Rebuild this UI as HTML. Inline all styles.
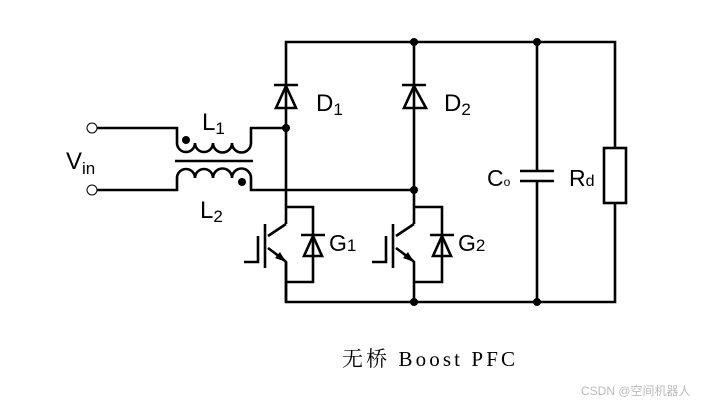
<!DOCTYPE html>
<html><head><meta charset="utf-8"><style>
body{margin:0;background:#fff;width:705px;height:403px;overflow:hidden}
svg{display:block}
.l{font-family:"Liberation Sans","DejaVu Sans",sans-serif;fill:#000}
</style></head><body>
<svg width="705" height="403" viewBox="0 0 705 403" xmlns="http://www.w3.org/2000/svg">
<g fill="none" stroke="#000" stroke-width="2.6" stroke-linejoin="miter">
<polyline points="286,128 286,42 615,42 615,148"/>
<polyline points="615,203 615,302 286,302 286,262"/>
<line x1="414" y1="42" x2="414" y2="224"/>
<line x1="537" y1="42" x2="537" y2="171"/>
<line x1="537" y1="181" x2="537" y2="302"/>
<rect x="604" y="148" width="22" height="55"/>
<line x1="520" y1="171" x2="554" y2="171"/>
<line x1="520" y1="181" x2="554" y2="181"/>
<line x1="286" y1="128" x2="286" y2="224"/>
<line x1="274" y1="85" x2="298" y2="85"/>
<polygon points="286,86 276,108 296,108"/>
<line x1="402" y1="85" x2="426" y2="85"/>
<polygon points="414,86 404,108 426,108"/>
<polyline points="97,128 177,128 177,143"/>
<polyline points="251,143 251,128 286,128"/>
<path d="M177,143 a9,9 0 0 0 18,0 a9,9 0 0 0 18,0 a9,9 0 0 0 19,0 a9.5,9.5 0 0 0 19,0"/>
<line x1="175" y1="161" x2="253" y2="161"/>
<polyline points="97,190 177,190 177,178"/>
<polyline points="251,178 251,190 414,190"/>
<path d="M177,178 a9,9 0 0 1 18,0 a9,9 0 0 1 18,0 a9,9 0 0 1 19,0 a9.5,9.5 0 0 1 19,0"/>
<polyline points="286,207 313,207 313,282 286,282"/>
<polyline points="286,224 268,236"/>
<polyline points="268,248 284,260 286,262 286,302"/>
<line x1="265" y1="224" x2="265" y2="268"/>
<polyline points="258,236 258,262 244,262"/>
<line x1="301" y1="235" x2="325" y2="235"/>
<polygon points="313,236 304,256 322,256"/>
<polyline points="414,207 442,207 442,282 414,282"/>
<polyline points="414,224 396,236"/>
<polyline points="396,248 412,260 414,262 414,302"/>
<line x1="393" y1="224" x2="393" y2="268"/>
<polyline points="386,236 386,262 372,262"/>
<line x1="430" y1="235" x2="454" y2="235"/>
<polygon points="442,236 433,256 451,256"/>
</g>
<polygon points="286,262 275,258 280,252" fill="#000"/>
<polygon points="414,262 403,258 408,252" fill="#000"/>
<circle cx="92" cy="128" r="5" fill="#fff" stroke="#000" stroke-width="1"/>
<circle cx="92" cy="190" r="5" fill="#fff" stroke="#000" stroke-width="1"/>
<g fill="#000">
<circle cx="286" cy="128" r="4"/><circle cx="414" cy="42" r="4"/><circle cx="537" cy="42" r="4"/>
<circle cx="414" cy="190" r="4"/><circle cx="414" cy="302" r="4"/><circle cx="537" cy="302" r="4"/>
<circle cx="186" cy="140" r="4"/><circle cx="242" cy="182" r="4"/>
</g>
<text class="l" x="316" y="111" font-size="24">D<tspan font-size="17" dy="4">1</tspan></text>
<text class="l" x="444" y="111" font-size="24">D<tspan font-size="17" dy="4">2</tspan></text>
<text class="l" x="202" y="130" font-size="24">L<tspan font-size="17" dy="4">1</tspan></text>
<text class="l" x="200" y="218" font-size="24">L<tspan font-size="17" dy="4">2</tspan></text>
<text class="l" x="66" y="169" font-size="24">V<tspan font-size="17" dy="5">in</tspan></text>
<text class="l" x="329" y="251" font-size="23">G<tspan font-size="17">1</tspan></text>
<text class="l" x="458" y="251" font-size="23">G<tspan font-size="17">2</tspan></text>
<text class="l" x="487" y="186" font-size="23">C<tspan font-size="12">o</tspan></text>
<text class="l" x="569" y="186" font-size="23">R<tspan font-size="16">d</tspan></text>
<text x="342" y="366" font-size="21" textLength="173" lengthAdjust="spacing" font-family="'Liberation Serif','Noto Serif CJK SC',serif" fill="#000">无桥 Boost  PFC</text>
<text x="581" y="395" font-size="12" font-family="'Liberation Sans','Noto Sans CJK SC',sans-serif" fill="#bbb">CSDN @空间机器人</text>
</svg>
</body></html>
